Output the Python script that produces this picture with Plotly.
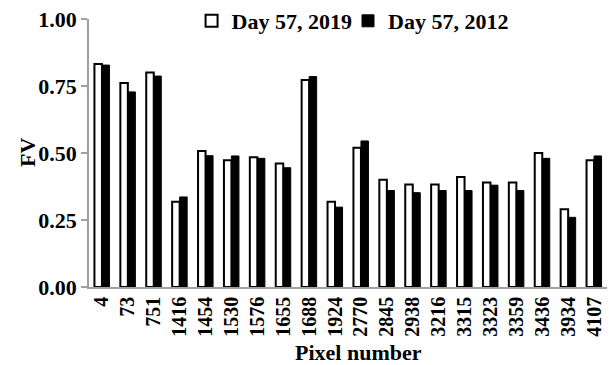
import plotly.graph_objects as go

pixels = ["4", "73", "751", "1416", "1454", "1530", "1576", "1655", "1688", "1924",
          "2770", "2845", "2938", "3216", "3315", "3323", "3359", "3436", "3934", "4107"]
fv_2019 = [0.832, 0.761, 0.800, 0.318, 0.507, 0.473, 0.484, 0.461, 0.772, 0.318,
           0.520, 0.400, 0.382, 0.382, 0.410, 0.390, 0.390, 0.500, 0.290, 0.473]
fv_2012 = [0.828, 0.728, 0.787, 0.336, 0.490, 0.489, 0.480, 0.445, 0.785, 0.298,
           0.545, 0.360, 0.352, 0.360, 0.360, 0.380, 0.360, 0.480, 0.260, 0.489]
y_ticks = [0, 0.25, 0.5, 0.75, 1.0]

font_family = "Liberation Serif, Times New Roman, serif"
legend_font = dict(family=font_family, size=22, color="black", weight="bold")

fig = go.Figure()
fig.add_trace(go.Bar(x=pixels, y=fv_2019, name="Day 57, 2019", legend="legend",
                     marker=dict(color="white", line=dict(color="black", width=2))))
fig.add_trace(go.Bar(x=pixels, y=fv_2012, name="Day 57, 2012", legend="legend2",
                     marker=dict(color="black", line=dict(color="black", width=1))))

fig.update_layout(
    width=609, height=365,
    margin=dict(l=89, r=2, t=19, b=78, autoexpand=False),
    paper_bgcolor="white", plot_bgcolor="white",
    barmode="group", bargap=0.42, bargroupgap=0,
    font=dict(family=font_family, color="black"),
    showlegend=True,
    legend=dict(orientation="h", x=0.198, y=1.0, yref="container",
                xanchor="left", yanchor="top", font=legend_font,
                itemwidth=30, bgcolor="rgba(0,0,0,0)"),
    legend2=dict(orientation="h", x=0.5, y=1.0, yref="container",
                 xanchor="left", yanchor="top", font=legend_font,
                 itemwidth=30, bgcolor="rgba(0,0,0,0)"),
    xaxis=dict(type="category", showline=True, linecolor="#a0a0a0", linewidth=1.5,
               ticks="", tickangle=-90, showgrid=False,
               tickfont=dict(family=font_family, size=20, color="black", weight="bold")),
    yaxis=dict(range=[0, 1.0], tickvals=y_ticks, tickformat=".2f",
               showline=True, linecolor="#a0a0a0", linewidth=1.5,
               ticks="outside", ticklen=6, tickcolor="#a0a0a0", tickwidth=1.5,
               showgrid=False, zeroline=False,
               tickfont=dict(family=font_family, size=22, color="black", weight="bold")),
    annotations=[
        dict(text="Pixel number", xref="paper", yref="paper", x=0.52, y=0,
             yshift=-65, xanchor="center", yanchor="middle", showarrow=False,
             font=dict(family=font_family, size=22, color="black", weight="bold")),
        dict(text="FV", xref="paper", yref="paper", x=0, y=0.5, xshift=-62,
             xanchor="center", yanchor="middle", textangle=-90, showarrow=False,
             font=dict(family=font_family, size=22, color="black", weight="bold")),
    ],
)

fig.write_html("out.html")
